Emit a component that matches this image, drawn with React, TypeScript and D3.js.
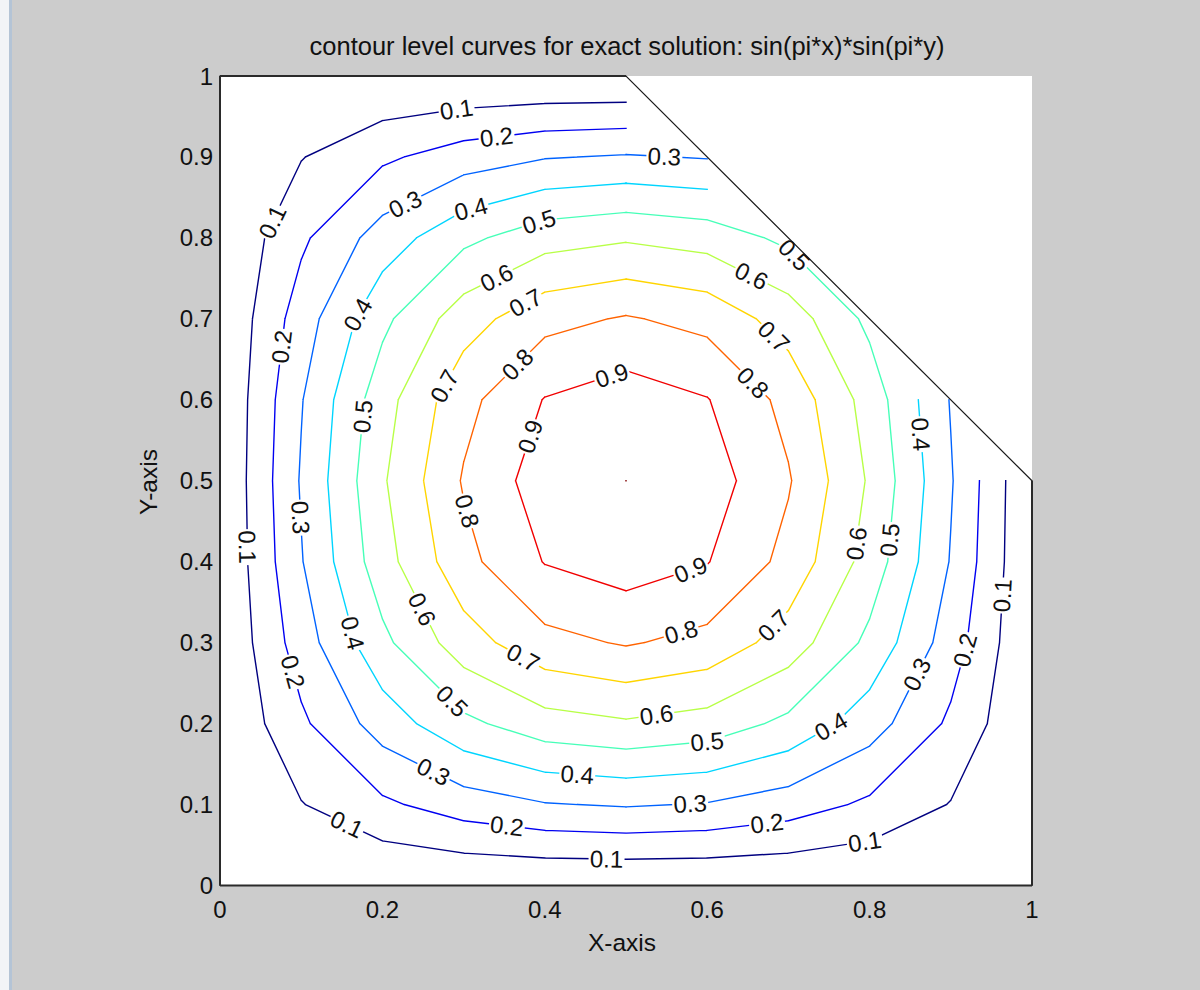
import React from 'react'
import * as d3 from 'd3'

// grid nodes of the mesh (h = 0.1)
const xNodes = [0, 0.1, 0.2, 0.3, 0.4, 0.5, 0.6, 0.7, 0.8, 0.9, 1]
const yNodes = [0, 0.1, 0.2, 0.3, 0.4, 0.5, 0.6, 0.7, 0.8, 0.9, 1]

// nodal values of the exact solution, row = y index, col = x index (null = outside the domain)
const uValues: (number | null)[][] = [
  [0, 0, 0, 0, 0, 0, 0, 0, 0, 0, 0],
  [0, 0.0955, 0.1816, 0.25, 0.2939, 0.309, 0.2939, 0.25, 0.1816, 0.0955, 0],
  [0, 0.1816, 0.3455, 0.4755, 0.559, 0.5878, 0.559, 0.4755, 0.3455, 0.1816, 0],
  [0, 0.25, 0.4755, 0.6545, 0.7694, 0.809, 0.7694, 0.6545, 0.4755, 0.25, 0],
  [0, 0.2939, 0.559, 0.7694, 0.9045, 0.9511, 0.9045, 0.7694, 0.559, 0.2939, 0],
  [0, 0.309, 0.5878, 0.809, 0.9511, 1, 0.9511, 0.809, 0.5878, 0.309, 0],
  [0, 0.2939, 0.559, 0.7694, 0.9045, 0.9511, 0.9045, 0.7694, 0.559, 0.2939, null],
  [0, 0.25, 0.4755, 0.6545, 0.7694, 0.809, 0.7694, 0.6545, 0.4755, null, null],
  [0, 0.1816, 0.3455, 0.4755, 0.559, 0.5878, 0.559, 0.4755, null, null, null],
  [0, 0.0955, 0.1816, 0.25, 0.2939, 0.309, 0.2939, null, null, null, null],
  [0, 0, 0, 0, 0, 0, null, null, null, null, null],
]

const levels = [0.1, 0.2, 0.3, 0.4, 0.5, 0.6, 0.7, 0.8, 0.9, 1.0]

// inline labels: [level, x, y] (approximate anchor, snapped to the curve)
const contourLabels: [number, number, number][] = [
  [0.1, 0.292, 0.954], [0.1, 0.068, 0.818], [0.1, 0.027, 0.418], [0.1, 0.154, 0.071],
  [0.1, 0.476, 0.030], [0.1, 0.794, 0.054], [0.1, 0.967, 0.358],
  [0.2, 0.341, 0.921], [0.2, 0.080, 0.665], [0.2, 0.083, 0.262], [0.2, 0.353, 0.071],
  [0.2, 0.674, 0.074], [0.2, 0.917, 0.291],
  [0.3, 0.547, 0.895], [0.3, 0.230, 0.838], [0.3, 0.090, 0.454], [0.3, 0.262, 0.139],
  [0.3, 0.579, 0.102], [0.3, 0.860, 0.260],
  [0.4, 0.310, 0.832], [0.4, 0.170, 0.705], [0.4, 0.164, 0.312], [0.4, 0.440, 0.137],
  [0.4, 0.755, 0.192], [0.4, 0.856, 0.557],
  [0.5, 0.394, 0.816], [0.5, 0.704, 0.776], [0.5, 0.181, 0.579], [0.5, 0.283, 0.225],
  [0.5, 0.600, 0.177], [0.5, 0.825, 0.427],
  [0.6, 0.342, 0.748], [0.6, 0.653, 0.750], [0.6, 0.246, 0.340], [0.6, 0.538, 0.207],
  [0.6, 0.780, 0.423],
  [0.7, 0.378, 0.717], [0.7, 0.680, 0.676], [0.7, 0.280, 0.615], [0.7, 0.372, 0.279],
  [0.7, 0.681, 0.322],
  [0.8, 0.367, 0.643], [0.8, 0.653, 0.618], [0.8, 0.299, 0.461], [0.8, 0.567, 0.316],
  [0.9, 0.483, 0.628], [0.9, 0.384, 0.554], [0.9, 0.581, 0.386],
]

// pentagon domain
const boundary: [number, number][] = [[0, 0], [1, 0], [1, 0.5], [0.5, 1], [0, 1]]

const xTicks = [0, 0.2, 0.4, 0.6, 0.8, 1]
const yTicks = [0, 0.1, 0.2, 0.3, 0.4, 0.5, 0.6, 0.7, 0.8, 0.9, 1]

const chartTitle = 'contour level curves for exact solution: sin(pi*x)*sin(pi*y)'

const W = 1200
const H = 990
const plot = { left: 220, right: 1032, top: 76, bottom: 885.5 }
const FONT = '"Liberation Sans", Arial, Helvetica, sans-serif'

const x = d3.scaleLinear().domain([0, 1]).range([plot.left, plot.right])
const y = d3.scaleLinear().domain([0, 1]).range([plot.bottom, plot.top])

// MATLAB jet, mapped over the level range
const jet = d3.scaleLinear<string>()
  .domain([0, 0.125, 0.375, 0.625, 0.875, 1])
  .range(['#000080', '#0000ff', '#00ffff', '#ffff00', '#ff0000', '#800000'])
const levelExtent = d3.extent(levels) as [number, number]
const levelColor = (l: number) => jet((l - levelExtent[0]) / (levelExtent[1] - levelExtent[0]))

type Pt = [number, number]

function edgeCross(level: number, i0: number, j0: number, i1: number, j1: number): Pt | null {
  const a = uValues[j0][i0]
  const b = uValues[j1][i1]
  if (a == null || b == null) return null
  if ((a < level) === (b < level)) return null
  const t = (level - a) / (b - a)
  return [xNodes[i0] + t * (xNodes[i1] - xNodes[i0]), yNodes[j0] + t * (yNodes[j1] - yNodes[j0])]
}

// marching squares, cells with missing corners keep the valid edges
function levelSegments(level: number): [Pt, Pt][] {
  const segs: [Pt, Pt][] = []
  for (let j = 0; j < yNodes.length - 1; j++) {
    for (let i = 0; i < xNodes.length - 1; i++) {
      const pts = [
        edgeCross(level, i, j, i + 1, j),
        edgeCross(level, i + 1, j, i + 1, j + 1),
        edgeCross(level, i, j + 1, i + 1, j + 1),
        edgeCross(level, i, j, i, j + 1),
      ].filter(Boolean) as Pt[]
      if (pts.length === 2) segs.push([pts[0], pts[1]])
      else if (pts.length === 4) segs.push([pts[0], pts[1]], [pts[2], pts[3]])
    }
  }
  return segs
}

function placeLabel(segs: [Pt, Pt][], lx: number, ly: number) {
  const px = x(lx)
  const py = y(ly)
  let best = { d: Infinity, sx: px, sy: py, ang: 0 }
  const pix = segs.map(([p, q]) => [x(p[0]), y(p[1]), x(q[0]), y(q[1])])
  pix.forEach(([ax, ay, bx, by]) => {
    const dx = bx - ax
    const dy = by - ay
    const len2 = dx * dx + dy * dy
    const t = len2 > 0 ? Math.max(0, Math.min(1, ((px - ax) * dx + (py - ay) * dy) / len2)) : 0
    const sx = ax + t * dx
    const sy = ay + t * dy
    const d = Math.hypot(px - sx, py - sy)
    if (d < best.d && len2 > 0) best = { d, sx, sy, ang: Math.atan2(dy, dx) }
  })
  // local direction from the curve points around the label
  const near: Pt[] = [[best.sx, best.sy]]
  pix.forEach(([ax, ay, bx, by]) => {
    if (Math.hypot(ax - best.sx, ay - best.sy) < 22) near.push([ax, ay])
    if (Math.hypot(bx - best.sx, by - best.sy) < 22) near.push([bx, by])
  })
  let far = 0
  let ang = best.ang
  for (let a = 0; a < near.length; a++) {
    for (let b = a + 1; b < near.length; b++) {
      const d = Math.hypot(near[b][0] - near[a][0], near[b][1] - near[a][1])
      if (d > far && d > 12) {
        far = d
        ang = Math.atan2(near[b][1] - near[a][1], near[b][0] - near[a][0])
      }
    }
  }
  let deg = (ang * 180) / Math.PI
  if (deg > 90) deg -= 180
  if (deg <= -90) deg += 180
  return { sx: best.sx, sy: best.sy, deg }
}

export default function App() {
  const curves = levels.map(level => {
    const segs = levelSegments(level)
    const d = segs.map(([p, q]) => `M${x(p[0])},${y(p[1])}L${x(q[0])},${y(q[1])}`).join('')
    const labels = contourLabels
      .filter(l => Math.abs(l[0] - level) < 1e-9)
      .map(l => ({ text: String(l[0]), ...placeLabel(segs, l[1], l[2]) }))
    return { level, d, labels }
  })

  const boundaryPath = 'M' + boundary.map(p => `${x(p[0])},${y(p[1])}`).join('L') + 'Z'

  return (
    <div style={{ position: 'absolute', left: 0, top: 0 }}>
      <svg width={W} height={H} style={{ display: 'block', fontFamily: FONT }}>
        <rect width={W} height={H} fill="#cccccc" />
        <rect x={0} y={0} width={9} height={H} fill="#f2f4f7" />
        <rect x={9} y={0} width={3} height={H} fill="#b4c4d6" />

        <defs>
          {curves.map((c, i) => (
            <mask key={i} id={`gap-${i}`} maskUnits="userSpaceOnUse" x={0} y={0} width={W} height={H}>
              <rect width={W} height={H} fill="#fff" />
              {c.labels.map((l, k) => (
                <rect key={k} x={-18} y={-8} width={36} height={16} fill="#000"
                  transform={`translate(${l.sx},${l.sy}) rotate(${l.deg})`} />
              ))}
            </mask>
          ))}
        </defs>

        <rect x={plot.left} y={plot.top} width={plot.right - plot.left} height={plot.bottom - plot.top} fill="#fff" />

        {curves.map((c, i) => (
          <path key={i} d={c.d} fill="none" stroke={levelColor(c.level)} strokeWidth={1.4}
            strokeLinecap="square" mask={`url(#gap-${i})`} />
        ))}

        <path d={boundaryPath} fill="none" stroke="#1a1a1a" strokeWidth={1.2} />
        <line x1={x(0)} x2={x(0)} y1={y(0)} y2={y(1)} stroke="#2a2a2a" strokeWidth={2} />
        <line x1={x(0)} x2={x(1)} y1={y(0)} y2={y(0)} stroke="#2a2a2a" strokeWidth={2} />
        <line x1={x(0)} x2={x(0.5)} y1={y(1)} y2={y(1)} stroke="#2a2a2a" strokeWidth={2} />
        <line x1={x(1)} x2={x(1)} y1={y(0)} y2={y(0.5)} stroke="#2a2a2a" strokeWidth={2} />

        {curves.map((c, i) => (
          <g key={i}>
            {c.labels.map((l, k) => (
              <text key={k} transform={`translate(${l.sx},${l.sy}) rotate(${l.deg})`}
                textAnchor="middle" dominantBaseline="central" fontSize={24} fill="#111">
                {l.text}
              </text>
            ))}
          </g>
        ))}

        {yTicks.map(t => (
          <text key={t} x={213} y={y(t)} textAnchor="end" dominantBaseline="central" fontSize={24} fill="#111">
            {+t.toFixed(1)}
          </text>
        ))}
        {xTicks.map(t => (
          <text key={t} x={x(t)} y={918} textAnchor="middle" fontSize={24} fill="#111">
            {+t.toFixed(1)}
          </text>
        ))}

        <text x={627} y={55} textAnchor="middle" fontSize={25.5} fill="#111">{chartTitle}</text>
        <text x={622} y={951} textAnchor="middle" fontSize={24.5} fill="#111">X-axis</text>
        <text transform={`translate(157,482) rotate(-90)`} textAnchor="middle" fontSize={24.5} fill="#111">Y-axis</text>
      </svg>
    </div>
  )
}
